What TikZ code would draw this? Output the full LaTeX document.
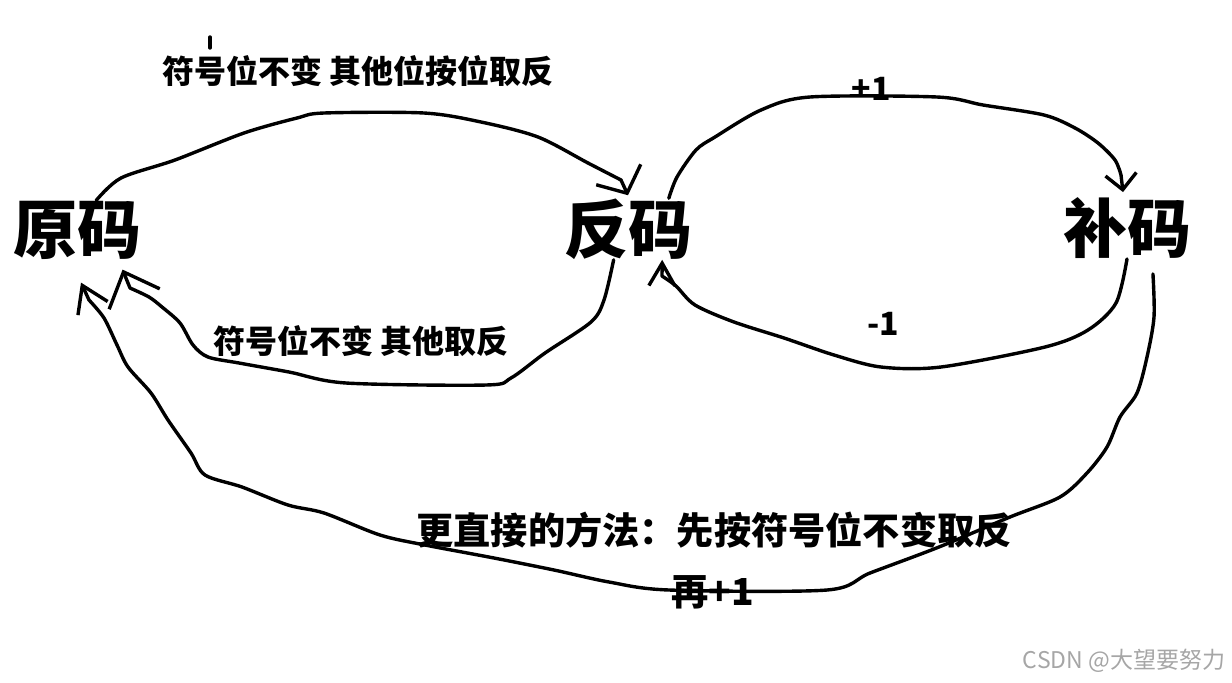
\documentclass[tikz,border=0pt]{standalone}
\usepackage{fontspec}
\newfontfamily\cjk{Noto Sans CJK SC}
\usetikzlibrary{arrows.meta}
\tikzset{
  ma/.style={font=\cjk\bfseries\fontsize{32}{32}\selectfont, inner sep=0pt},
  note/.style={font=\cjk\bfseries\fontsize{#1}{#1}\selectfont, inner sep=0pt},
  hand/.style={line width=1.7pt, line cap=round, line join=round},
}
\begin{document}
\begin{tikzpicture}[x=0.5pt,y=-0.5pt]
\useasboundingbox (0,0) rectangle (1232,682);
\node[ma] (yuan) at (77,230) {原码};
\node[ma] (fan) at (628,229) {反码};
\node[ma] (bu) at (1127,228) {补码};
\node[note=16] (toplbl) at (358,71) {符号位不变 其他位按位取反};
\node[note=16] (midlbl) at (361,341) {符号位不变 其他取反};
\node[note=16] (plus) at (871,89) {+1};
\node[note=16] (minus) at (883,324) {-1};
\node[note=18.6] (direct) at (714,530) {更直接的方法：先按符号位不变取反};
\node[note=18.6] (again) at (713,592) {再+1};
\node[font=\cjk\fontsize{11.5}{11.5}\selectfont, text=black!35, inner sep=0pt] (wm) at (1124,661) {CSDN @大望要努力};
\draw[hand] (210,37) -- (210,48);
\draw[hand,-{Straight Barb[angle=100:16pt]}] plot[smooth] coordinates {(yuan.57) (121,178) (175,160) (244,133) (297,118) (324,113) (424,113) (481,122) (538,137) (588,163) (621,180)} -- ([shift={(0,-3)}]fan.north);
\draw[hand,-{Straight Barb[angle=90:11pt]}] plot[smooth] coordinates {(fan.37) (677,177) (696,150) (715,137) (761,110) (810,97) (937,97) (983,105) (1044,115) (1075,128) (1098,143) (1115,160) (1121,175)} -- ([shift={(-4,-5)}]bu.north);
\draw[hand,-{Straight Barb[angle=60:13pt]}] plot[smooth] coordinates {(bu.south) (1116,303) (1088,330) (1045,347) (941,367) (881,367) (834,355) (784,338) (734,322) (695,305) (676,286) (662,276)} -- (fan.-42);
\draw[hand,-{Straight Barb[angle=86:20pt]}] plot[smooth] coordinates {(fan.-115) (604,300) (591,322) (545,353) (511,378) (486,385) (346,383) (289,372) (239,363) (208,357) (193,345) (180,323) (162,307) (149,297) (130,288)} -- ([shift={(0,10)}]yuan.-33);
\draw[hand,-{Straight Barb[angle=66:15pt]}] plot[smooth] coordinates {([shift={(0,15)}]bu.-50) (1154,317) (1147,357) (1137,393) (1120,417) (1107,447) (1087,473) (1060,497) (1010,517) (939,547) (870,573) (827,590) (669,590) (609,582) (554,570) (494,558) (425,545) (380,535) (324,513) (288,505) (242,487) (205,475) (191,453) (168,420) (151,393) (128,367) (117,345) (104,318) (89,300)} -- ([shift={(4,23)}]yuan.south);
\end{tikzpicture}
\end{document}
